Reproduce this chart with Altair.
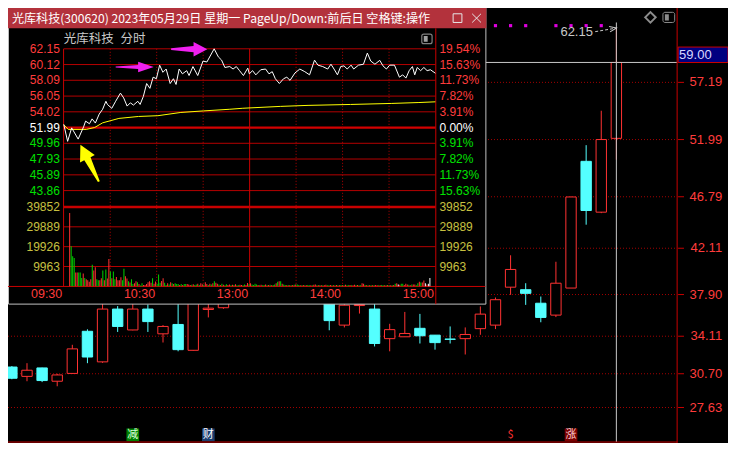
import altair as alt
import pandas as pd

# ---------------- values ----------------
# daily candles, index 0 = left-most (partly cut), index 40 = 2023-05-29
candle_open = [31.31, 30.46, 31.23, 30.02, 30.73, 34.56, 31.78, 36.58, 34.68, 36.58,
               34.33, 35.18, 32.83, 36.54, 36.70, 39.50, 41.00, 40.50, 42.30, 40.60,
               39.20, 37.80, 35.12, 36.90, 36.58, 33.89, 34.06, 34.83, 34.21, 33.85,
               33.89, 34.80, 35.12, 38.57, 38.34, 37.11, 36.03, 38.49, 50.01, 45.39, 52.10]
candle_high = [31.40, 31.66, 31.25, 30.70, 33.33, 34.74, 37.20, 36.85, 37.10, 37.00,
               35.12, 37.40, 38.60, 37.20, 40.20, 41.80, 42.50, 43.00, 42.90, 41.20,
               39.80, 38.00, 37.30, 37.40, 37.20, 35.24, 36.32, 36.14, 34.21, 35.00,
               34.91, 36.82, 37.63, 41.47, 38.93, 37.72, 40.88, 46.80, 51.48, 54.61, 62.15]
candle_low = [30.20, 30.02, 29.94, 29.56, 30.70, 31.66, 31.69, 34.50, 34.65, 34.50,
              33.54, 32.74, 32.80, 35.82, 36.60, 39.00, 39.80, 40.00, 40.20, 38.60,
              37.60, 34.65, 34.91, 36.17, 33.18, 32.74, 34.06, 33.45, 32.89, 33.45,
              32.45, 34.24, 34.76, 37.87, 36.96, 35.38, 35.85, 38.49, 44.25, 45.30, 50.16]
candle_close = [30.29, 31.02, 30.08, 30.59, 32.96, 32.22, 36.58, 35.00, 36.58, 35.44,
                35.00, 32.89, 38.20, 36.66, 39.80, 41.20, 40.30, 42.60, 40.80, 39.00,
                38.00, 35.53, 36.93, 37.00, 33.45, 34.71, 34.36, 34.15, 33.53, 33.83,
                34.27, 36.12, 37.43, 40.18, 38.01, 35.82, 38.93, 46.77, 45.54, 51.99, 59.00]
main_tick_labels = ["57.19", "51.99", "46.79", "42.11", "37.90", "34.11", "30.70", "27.63"]
crosshair_label = "59.00"
high_note = "62.15"
signal_idx = [32, 33, 34, 36, 37, 38, 39]
event_idx = [8, 13, 33, 37]
event_text = ["减", "财", "$", "涨"]
event_bg = ["#008000", "#1B3E6E", "#000000", "#7A0000"]
event_fg = ["#D8FFD8", "#FFFFFF", "#FF3232", "#FFD0D0"]

# intraday popup
title_text = "光库科技(300620) 2023年05月29日 星期一 PageUp/Down:前后日 空格键:操作"
sub_name = "光库科技"
sub_kind = "分时"
prev_close = 51.99
price_ticks = ["62.15", "60.12", "58.09", "56.05", "54.02", "51.99", "49.96", "47.93", "45.89", "43.86"]
pct_ticks = ["19.54%", "15.63%", "11.73%", "7.82%", "3.91%", "0.00%", "3.91%", "7.82%", "11.73%", "15.63%"]
vol_ticks = ["39852", "29889", "19926", "9963"]
time_ticks = [0, 60, 120, 180, 240]
time_labels = ["09:30", "10:30", "13:00", "14:00", "15:00"]
time_dotted = [30, 60, 90, 150, 180, 210]
time_solid = [120]

line_minute = [0, 2.5, 5.1, 9.3, 12.8, 14.1, 16.6, 18.3, 20.4, 22.9, 25.1, 27.2, 28.2, 31.0, 33.5,
               36.6, 38.7, 40.9, 43.0, 45.0, 47.8, 49.3, 51.4, 53.5, 55.6, 57.7, 59.8, 61.9, 64.0,
               66.1, 68.7, 70.8, 72.5, 74.5, 76.6, 79.4, 80.9, 83.4, 86.5, 89.9, 92.4, 97.1, 99.8,
               101.9, 104.0, 107.2, 109.3, 111.4, 113.5, 116.0, 118.8, 119.8, 121.9, 124.0, 127.2,
               130.3, 132.5, 134.6, 136.6, 139.2, 141.9, 144.0, 146.1, 149.3, 152.4, 155.6, 158.7,
               161.9, 164.1, 167.2, 170.4, 172.5, 174.5, 176.7, 178.8, 180.9, 183.0, 185.5, 187.2,
               190.3, 193.5, 196.0, 198.2, 200.9, 204.0, 206.1, 208.3, 210.4, 213.5, 216.7, 218.8,
               220.9, 223.0, 225.1, 226.6, 228.2, 230.4, 232.5, 234.6, 236.7, 239.9]
line_price = [52.40, 50.21, 51.95, 50.50, 52.08, 52.82, 52.48, 53.11, 52.57, 53.73, 54.35, 55.38,
              54.97, 54.47, 55.38, 56.43, 55.81, 54.76, 55.18, 54.89, 55.38, 54.97, 56.01, 57.67,
              57.05, 58.49, 58.29, 60.04, 59.12, 59.54, 57.67, 58.29, 57.55, 59.54, 58.92, 59.33,
              58.70, 59.86, 58.70, 60.57, 60.45, 62.15, 61.11, 60.69, 59.74, 59.86, 59.54, 59.86,
              59.33, 58.70, 59.66, 58.92, 59.33, 58.79, 59.45, 59.54, 58.92, 59.20, 58.29, 57.67,
              58.29, 58.49, 58.08, 59.04, 59.54, 59.20, 58.79, 60.69, 60.04, 59.86, 59.54, 60.16,
              59.54, 58.79, 59.86, 59.95, 59.54, 60.04, 59.54, 60.04, 60.16, 61.60, 60.57, 60.16,
              60.66, 59.95, 59.54, 60.04, 60.04, 58.49, 58.79, 58.37, 59.33, 59.86, 58.79, 59.74,
              59.33, 59.74, 59.33, 59.45, 59.00]
avg_minute = [0, 2.9, 14.5, 20.0, 25.1, 35.6, 48.2, 60.8, 75.6, 90.3, 107.2, 115.6, 139.8, 157.7,
              185.1, 211.4, 229.3, 239.9]
avg_price = [52.36, 51.75, 51.75, 52.00, 52.60, 53.17, 53.42, 53.52, 53.94, 54.14, 54.35, 54.48,
             54.72, 54.85, 54.97, 55.10, 55.22, 55.31]

volume = [36800, 20100, 15070, 14250, 6970, 6970, 6970, 6970, 4200, 6480, 4200, 3560, 3080, 2270, 3560, 10850, 7940, 9560, 3560, 3080,
          3080, 4050, 7940, 3080, 8420, 3900, 13770, 7450, 4050, 7450, 3560, 4700, 3080, 3080, 4540, 3080, 8900, 5020, 3900, 2590,
          1940, 3560, 1130, 1620, 2590, 2110, 1130, 490, 1620, 650, 650, 1130, 2110, 2590, 1780, 4050, 1300, 2430, 1130, 6000,
          1780, 2750, 4050, 1780, 650, 1620, 970, 2110, 1620, 1130, 1620, 1130, 1130, 650, 1130, 650, 1130, 1130, 1130, 970,
          650, 800, 1100, 650, 900, 1300, 700, 1600, 1000, 800, 2100, 1200, 700, 1300, 900, 1600, 2600, 1800, 1300, 900,
          700, 1300, 800, 600, 1000, 700, 900, 600, 800, 700, 1100, 600, 500, 800, 700, 600, 900, 700, 1700, 1100,
          1600, 900, 700, 1300, 900, 700, 600, 800, 600, 700, 900, 600, 700, 800, 600, 700, 900, 1600, 2270, 2600,
          2600, 1300, 900, 700, 600, 700, 500, 600, 700, 800, 970, 970, 700, 600, 500, 700, 600, 500, 700, 600,
          500, 600, 800, 970, 600, 500, 700, 600, 500, 600, 800, 600, 500, 700, 600, 500, 600, 700, 500, 600,
          700, 500, 600, 800, 600, 500, 700, 600, 500, 800, 600, 700, 500, 600, 1600, 1300, 700, 600, 500, 600,
          500, 600, 500, 700, 500, 600, 500, 700, 600, 500, 600, 700, 500, 600, 500, 700, 1300, 1600, 970, 800,
          1300, 1300, 700, 1300, 970, 800, 600, 970, 900, 970, 600, 1600, 2270, 1950, 1950, 2900, 1600, 900, 1300, 4200]
volume_dir = ("rgggrrgggrgrrrrgrrgg" "rrgrgrrgrggrrrrggrrg" "rggrrgrggrrrrrrgrrgg"
              "grrggrgrgrgggrgrggrr" "rgrggrgrrgrrgrgrgrrg" "rgrggrrgrgrggrrggrrg"
              "rggggrgrggrgrgrggrgr" "grggrgrgrgrggrgrgrgg" "rgrrgrgrgrrggrgrgrgr"
              "grgrggrgrrgrggrrgrgr" "grgrrgrggrgrgrgrgrwr" "ggrrrgrgrrggrgrrwrww")

# ---------------- layout helpers (reference pixels -> chart pixels) ----------------
W, H = 720, 435
SX, SY = W / 736, H / 451


def X(v):
    return round(v * SX, 2)


def Y(v):
    return round(v * SY, 2)


FN = "Liberation Sans"
FC = "Noto Sans CJK SC"
RED_T = "#FF3C3C"
GRN_T = "#00E000"
UP = "#FF3232"
DN = "#54FFFF"
GRID = "#B40000"
ONE = pd.DataFrame({"k": [0]})


def hline(y, x1, x2, color, width=1, dash=None):
    kw = dict(color=color, strokeWidth=width)
    if dash:
        kw["strokeDash"] = dash
    return alt.Chart(ONE).mark_rule(**kw).encode(
        x=alt.value(X(x1)), x2=alt.value(X(x2)), y=alt.value(Y(y)))


def vline(x, y1, y2, color, width=1):
    return alt.Chart(ONE).mark_rule(color=color, strokeWidth=width).encode(
        x=alt.value(X(x)), y=alt.value(Y(y1)), y2=alt.value(Y(y2)))


def seg(x1, y1, x2, y2, color, width=1):
    return alt.Chart(ONE).mark_rule(color=color, strokeWidth=width).encode(
        x=alt.value(X(x1)), y=alt.value(Y(y1)), x2=alt.value(X(x2)), y2=alt.value(Y(y2)))


def box(x1, x2, y1, y2, **kw):
    return alt.Chart(ONE).mark_rect(**kw).encode(
        x=alt.value(X(x1)), x2=alt.value(X(x2)), y=alt.value(Y(y1)), y2=alt.value(Y(y2)))


def label(x, y, text, **kw):
    return alt.Chart(ONE).mark_text(text=text, baseline="middle", **kw).encode(
        x=alt.value(X(x)), y=alt.value(Y(y)))


# ---------------- main daily candlestick chart ----------------
n = len(candle_open)
cdf = pd.DataFrame({"i": list(range(n)), "o": candle_open, "h": candle_high,
                    "l": candle_low, "c": candle_close})
cdf["col"] = [UP if c > o else DN for o, c in zip(candle_open, candle_close)]
cdf["fill"] = ["#000000" if c > o else DN for o, c in zip(candle_open, candle_close)]

PS = alt.Scale(domain=[27.63, 51.99], range=[Y(414.2), Y(136.4)])
IS = alt.Scale(domain=[1, 40], range=[X(14.3), X(627)])
xI = alt.X("i:Q", scale=IS, axis=None)


def yP(f):
    return alt.Y(f, scale=PS, axis=None)


gdf = pd.DataFrame({"p": [float(s) for s in main_tick_labels], "lab": main_tick_labels})
sdf = pd.DataFrame({"i": signal_idx})
ch_df = pd.DataFrame({"i": [n - 1], "p": [float(crosshair_label)]})
note_df = pd.DataFrame({"i": [38.45], "p": [61.80], "lab": [high_note]})
narrow_df = pd.DataFrame({"i": [38.6], "p": [61.80], "i2": [39.9], "p2": [62.10]})
nhead_df = pd.DataFrame({"i": [39.78], "p": [62.08]})
edf = pd.DataFrame({"i": event_idx, "t": event_text, "bg": event_bg, "fg": event_fg})

main_group = alt.layer(
    alt.Chart(gdf).mark_rule(color="#A00000", strokeDash=[1, 2]).encode(
        y=yP("p:Q"), x=alt.value(0), x2=alt.value(X(684))),
    alt.Chart(gdf).mark_rule(color="#C80000").encode(
        y=yP("p:Q"), x=alt.value(X(685)), x2=alt.value(X(691))),
    alt.Chart(gdf).mark_text(align="right", baseline="middle", font=FN, fontSize=13, color=RED_T).encode(
        y=yP("p:Q"), x=alt.value(X(730)), text="lab:N"),
    alt.Chart(cdf).mark_rule(strokeWidth=1).encode(
        x=xI, y=yP("l:Q"), y2="h:Q", color=alt.Color("col:N", scale=None)),
    alt.Chart(cdf).mark_bar(size=X(10.6), strokeWidth=1).encode(
        x=xI, y=yP("o:Q"), y2="c:Q",
        fill=alt.Fill("fill:N", scale=None), stroke=alt.Stroke("col:N", scale=None)),
    alt.Chart(ch_df).mark_rule(color="#C8C8C8").encode(
        x=xI, y=alt.value(Y(15)), y2=alt.value(Y(450))),
    alt.Chart(ch_df).mark_rule(color="#C8C8C8").encode(
        y=yP("p:Q"), x=alt.value(0), x2=alt.value(X(684))),
    alt.Chart(sdf).mark_square(size=10, color="#E000E0", opacity=1).encode(
        x=xI, y=alt.value(Y(18.3))),
    alt.Chart(note_df).mark_text(align="right", baseline="middle", font=FN, fontSize=13, color="#C8C8C8").encode(
        x=xI, y=yP("p:Q"), text="lab:N"),
    alt.Chart(narrow_df).mark_rule(color="#C8C8C8", strokeDash=[3, 2]).encode(
        x=xI, y=yP("p:Q"), x2="i2:Q", y2="p2:Q"),
    alt.Chart(nhead_df).mark_point(shape="M -1 -0.8 L 1 0 L -1 0.8", size=49, angle=350,
                                   filled=False, color="#C8C8C8", opacity=1, strokeWidth=1).encode(
        x=xI, y=yP("p:Q")),
    alt.Chart(edf).mark_square(size=160, opacity=1).encode(
        x=xI, y=alt.value(Y(442.5)), color=alt.Color("bg:N", scale=None)),
    alt.Chart(edf).mark_text(font=FC, fontSize=11, baseline="middle").encode(
        x=xI, y=alt.value(Y(442.5)), text="t:N", color=alt.Color("fg:N", scale=None)),
)

main_chrome = [
    vline(684, 0, 451, "#C80000"),
    hline(450, 0, 684, "#C80000"),
    box(685, 736, 40.5, 56.5, fill="#000080", stroke="#C80000", strokeWidth=1),
    label(686, 48.5, crosshair_label, font=FN, fontSize=13, color="#D8D8FF", align="left"),
    alt.Chart(ONE).mark_point(shape="diamond", size=110, filled=False, color="#8C8C8C", opacity=1).encode(
        x=alt.value(X(656.7)), y=alt.value(Y(9.7))),
    box(669.5, 681.5, 4.5, 15, fillOpacity=0, stroke="#8C8C8C", strokeWidth=1, cornerRadius=2),
    box(671.5, 675.5, 6.5, 13, fill="#8C8C8C"),
]

# ---------------- popup window ----------------
popup_chrome = [
    box(0.5, 488.5, 0, 307, fill="#000000", stroke="#C0C0C0", strokeWidth=1),
    box(0, 489, 0, 21, fill="#B3323C"),
    label(4, 11, title_text, font=FC, fontSize=12.1, color="#FFFFFF", align="left"),
    box(455, 464, 6, 15, fillOpacity=0, stroke="#E6E6E6", strokeWidth=1),
    seg(474.5, 6, 483.5, 15, "#E6E6E6"),
    seg(483.5, 6, 474.5, 15, "#E6E6E6"),
    label(57, 32, sub_name, font=FC, fontSize=12.5, color="#C8C8C8", align="left"),
    label(115, 32, sub_kind, font=FC, fontSize=12.5, color="#C8C8C8", align="left"),
    box(423, 433.5, 27, 37, fillOpacity=0, stroke="#808080", strokeWidth=1.2, cornerRadius=2),
    box(425, 429, 29, 35, fill="#A0A0A0"),
    vline(437.3, 21, 307, "#C80000"),
    vline(56.8, 42.3, 288.7, "#C80000"),
    hline(288.7, 0, 488, "#C80000"),
]

MS = alt.Scale(domain=[0, 240], range=[X(57), X(437)])
PP = alt.Scale(domain=[43.86, 62.15], range=[Y(189.3), Y(42.3)])
xM = alt.X("m:Q", scale=MS, axis=None)


def yPP(f):
    return alt.Y(f, scale=PP, axis=None)


def tick_color(v):
    if abs(v - prev_close) < 1e-9:
        return "#FFFFFF"
    return RED_T if v > prev_close else GRN_T


pvals = [float(s) for s in price_ticks]
pgdf = pd.DataFrame({"p": pvals, "lab": price_ticks, "pct": pct_ticks,
                     "tc": [tick_color(v) for v in pvals],
                     "gc": ["#D20000" if abs(v - prev_close) < 1e-9 else GRID for v in pvals],
                     "gw": [2.2 if abs(v - prev_close) < 1e-9 else 1 for v in pvals]})
tdot_df = pd.DataFrame({"m": time_dotted})
tsol_df = pd.DataFrame({"m": time_solid})
tl_df = pd.DataFrame({"m": time_ticks, "lab": time_labels})
line_df = pd.DataFrame({"m": line_minute, "p": line_price})
avg_df = pd.DataFrame({"m": avg_minute, "p": avg_price})

ARROW_A = "M -1 -0.03 L 0.18 -0.1 L 0.18 -0.28 L 1 0 L 0.18 0.28 L 0.18 0.1 L -1 0.03 Z"
ARROW_B = "M -1 -0.05 L 0.24 -0.17 L 0.24 -0.4 L 1 0 L 0.24 0.4 L 0.24 0.17 L -1 0.05 Z"
arrow_low = pd.DataFrame({"m": [45.8], "p": [59.80]})
arrow_top = pd.DataFrame({"m": [81.0], "p": [62.10]})
arrow_yel = pd.DataFrame({"m": [16.7], "p": [47.39]})

price_group = alt.layer(
    alt.Chart(pgdf).mark_rule().encode(
        y=yPP("p:Q"), x=alt.value(X(57)), x2=alt.value(X(437)),
        color=alt.Color("gc:N", scale=None), strokeWidth=alt.StrokeWidth("gw:Q", scale=None)),
    alt.Chart(tdot_df).mark_rule(color=GRID, strokeDash=[1, 2]).encode(
        x=xM, y=alt.value(Y(42.3)), y2=alt.value(Y(288.7))),
    alt.Chart(tsol_df).mark_rule(color="#C80000").encode(
        x=xM, y=alt.value(Y(42.3)), y2=alt.value(Y(288.7))),
    alt.Chart(pgdf).mark_text(align="right", baseline="middle", font=FN, fontSize=12).encode(
        y=yPP("p:Q"), x=alt.value(X(53)), text="lab:N", color=alt.Color("tc:N", scale=None)),
    alt.Chart(pgdf).mark_text(align="left", baseline="middle", font=FN, fontSize=12).encode(
        y=yPP("p:Q"), x=alt.value(X(441)), text="pct:N", color=alt.Color("tc:N", scale=None)),
    alt.Chart(avg_df).mark_line(color="#FFFF00", strokeWidth=1).encode(x=xM, y=yPP("p:Q")),
    alt.Chart(line_df).mark_line(color="#FFFFFF", strokeWidth=1).encode(x=xM, y=yPP("p:Q")),
    alt.Chart(arrow_low).mark_point(shape=ARROW_A, size=1450, filled=True, color="#F020F0", opacity=1).encode(
        x=xM, y=yPP("p:Q")),
    alt.Chart(arrow_top).mark_point(shape=ARROW_B, size=1310, filled=True, color="#F020F0", opacity=1).encode(
        x=xM, y=yPP("p:Q")),
    alt.Chart(arrow_yel).mark_point(shape=ARROW_B, size=1700, angle=243.4, filled=True, color="#FFFF00",
                                    opacity=1).encode(x=xM, y=yPP("p:Q")),
    alt.Chart(tl_df).mark_text(align="right", baseline="middle", font=FN, fontSize=12.5, color=RED_T, dx=-1.5).encode(
        x=xM, y=alt.value(Y(297)), text="lab:N"),
)

VS = alt.Scale(domain=[0, 39852], range=[Y(288.6), Y(206.3)])
vvals = [float(s) for s in vol_ticks]
vgdf = pd.DataFrame({"v": vvals, "lab": vol_ticks,
                     "gw": [2.5 if v == max(vvals) else 1 for v in vvals],
                     "gc": ["#C80000" if v == max(vvals) else GRID for v in vvals]})
dir_color = {"r": "#FF3232", "g": "#00D200", "w": "#FFFFFF"}
vdf = pd.DataFrame({"m": [k + 0.6 for k in range(len(volume))], "v": volume,
                    "col": [dir_color[d] for d in volume_dir[:len(volume)]]})


def yV(f):
    return alt.Y(f, scale=VS, axis=None)


vol_group = alt.layer(
    alt.Chart(vgdf).mark_rule().encode(
        y=yV("v:Q"), x=alt.value(X(57)), x2=alt.value(X(437)),
        color=alt.Color("gc:N", scale=None), strokeWidth=alt.StrokeWidth("gw:Q", scale=None)),
    alt.Chart(vgdf).mark_text(align="right", baseline="middle", font=FN, fontSize=12, color="#C8C040").encode(
        y=yV("v:Q"), x=alt.value(X(53)), text="lab:N"),
    alt.Chart(vgdf).mark_text(align="left", baseline="middle", font=FN, fontSize=12, color="#C8C040").encode(
        y=yV("v:Q"), x=alt.value(X(441)), text="lab:N"),
    alt.Chart(vdf).mark_bar(size=1).encode(
        x=alt.X("m:Q", scale=MS, axis=None), y=yV("v:Q"), color=alt.Color("col:N", scale=None)),
)

chart = alt.layer(
    main_group, *main_chrome, *popup_chrome, price_group, vol_group
).resolve_scale(
    x="independent", y="independent"
).properties(
    width=W, height=H, padding=0, background="#000000",
    autosize=alt.AutoSizeParams(type="none"),
).configure_view(stroke=None)

chart.save("out.html", embed_options={"renderer": "svg", "actions": False})
